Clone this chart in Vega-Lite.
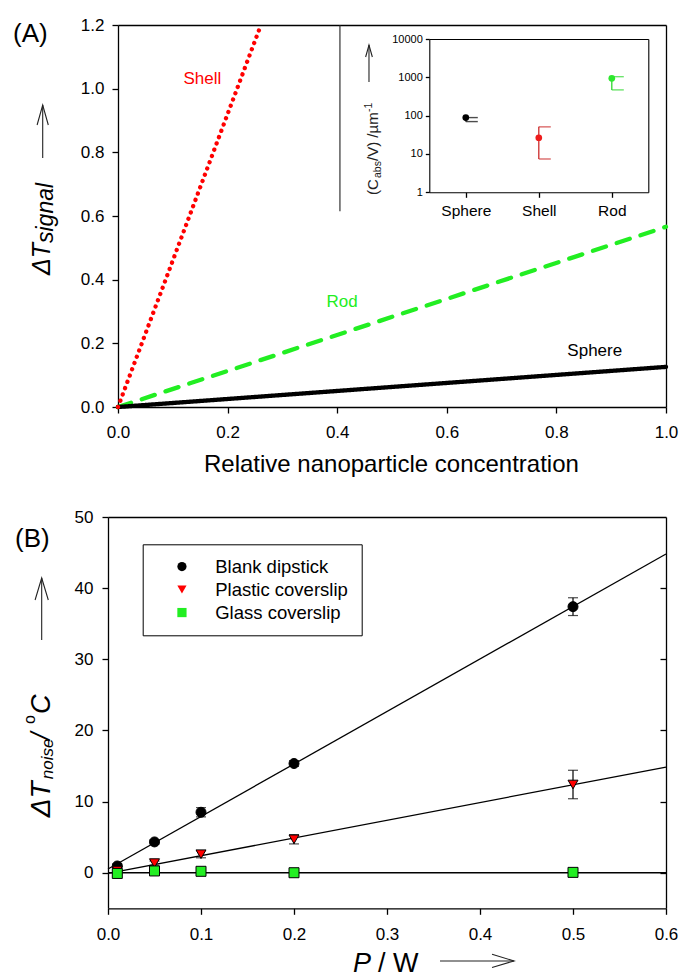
{
  "$schema": "https://vega.github.io/schema/vega-lite/v6.json",
  "width": 681,
  "height": 979,
  "padding": 0,
  "background": "#ffffff",
  "config": {
    "view": {"stroke": null},
    "axis": {"grid": false, "domainColor": "#000000", "domainWidth": 1.3, "tickColor": "#000000", "tickWidth": 1.3, "labelColor": "#000000", "labelFont": "Liberation Sans", "labelFontSize": 17, "labelFlush": false},
    "text": {"font": "Liberation Sans", "color": "#000000"}
  },
  "resolve": {"scale": {"x": "independent", "y": "independent", "color": "independent", "strokeDash": "independent", "fill": "independent", "shape": "independent"}},
  "layer": [
    {
      "resolve": {"axis": {"x": "independent", "y": "independent"}},
      "encoding": {
        "x": {"field": "x", "type": "quantitative", "scale": {"domain": [0, 1], "range": [118, 666], "nice": false, "zero": false}, "axis": null},
        "y": {"field": "y", "type": "quantitative", "scale": {"domain": [0, 1.2], "range": [407, 25], "nice": false, "zero": false}, "axis": null}
      },
      "layer": [
        {
          "data": {"values": [
            {"s": "Rod", "x": 0, "y": 0}, {"s": "Rod", "x": 1, "y": 0.566},
            {"s": "Sphere", "x": 0, "y": 0}, {"s": "Sphere", "x": 1, "y": 0.126},
            {"s": "Shell", "x": 0, "y": 0}, {"s": "Shell", "x": 0.2608, "y": 1.2}
          ]},
          "mark": {"type": "line", "strokeWidth": 4.3, "strokeCap": "round"},
          "encoding": {
            "x": {"field": "x", "type": "quantitative", "scale": {"domain": [0, 1], "range": [118, 666], "nice": false, "zero": false},
                  "axis": {"orient": "bottom", "offset": -572, "values": [0, 0.2, 0.4, 0.6, 0.8, 1], "format": ".1f", "tickSize": 6, "labelPadding": 11, "title": null}},
            "y": {"field": "y", "type": "quantitative", "scale": {"domain": [0, 1.2], "range": [407, 25], "nice": false, "zero": false},
                  "axis": {"orient": "left", "offset": -118, "values": [0, 0.2, 0.4, 0.6, 0.8, 1, 1.2], "format": ".1f", "tickSize": 6, "labelPadding": 8, "title": null}},
            "color": {"field": "s", "type": "nominal", "scale": {"domain": ["Shell", "Rod", "Sphere"], "range": ["#ff0000", "#22ee22", "#000000"]}, "legend": null},
            "strokeDash": {"field": "s", "type": "nominal", "scale": {"domain": ["Shell", "Rod", "Sphere"], "range": [[0.1, 6.6], [13.7, 11.3], [1, 0]]}, "legend": null}
          }
        },
        {
          "data": {"values": [
            {"s": "Shell", "x": 0.154, "y": 1.015},
            {"s": "Rod", "x": 0.409, "y": 0.314},
            {"s": "Sphere", "x": 0.87, "y": 0.16}
          ]},
          "mark": {"type": "text", "fontSize": 17, "align": "center", "baseline": "alphabetic"},
          "encoding": {
            "x": {"field": "x", "type": "quantitative", "scale": {"domain": [0, 1], "range": [118, 666], "nice": false, "zero": false},
                  "axis": {"orient": "top", "offset": -25, "ticks": false, "labels": false, "title": null}},
            "y": {"field": "y", "type": "quantitative", "scale": {"domain": [0, 1.2], "range": [407, 25], "nice": false, "zero": false},
                  "axis": {"orient": "right", "offset": -15, "ticks": false, "labels": false, "title": null}},
            "text": {"field": "s", "type": "nominal"},
            "color": {"field": "s", "type": "nominal", "scale": {"domain": ["Shell", "Rod", "Sphere"], "range": ["#ff0000", "#22ee22", "#000000"]}, "legend": null}
          }
        },
        {
          "data": {"values": [{"t": "Relative nanoparticle concentration", "x": 0.499, "y": -0.204}]},
          "mark": {"type": "text", "fontSize": 24, "align": "center", "baseline": "alphabetic"},
          "encoding": {"text": {"field": "t", "type": "nominal"}}
        },
        {
          "data": {"values": [{"t": "(A)", "x": -0.1916, "y": 1.1475}]},
          "mark": {"type": "text", "fontSize": 26, "align": "left", "baseline": "alphabetic"},
          "encoding": {"text": {"field": "t", "type": "nominal"}}
        },
        {
          "data": {"values": [{"t": "ΔT", "x": -0.1241, "y": 0.4147}]},
          "mark": {"type": "text", "fontSize": 25, "fontStyle": "italic", "angle": -90, "align": "left", "baseline": "alphabetic"},
          "encoding": {"text": {"field": "t", "type": "nominal"}}
        },
        {
          "data": {"values": [{"t": "signal", "x": -0.1186, "y": 0.5152}]},
          "mark": {"type": "text", "fontSize": 23, "fontStyle": "italic", "angle": -90, "align": "left", "baseline": "alphabetic"},
          "encoding": {"text": {"field": "t", "type": "nominal"}}
        },
        {
          "data": {"values": [{"t": "(C", "x": 0.4745, "y": 0.666}, {"t": "/V) /µm", "x": 0.4745, "y": 0.7728}]},
          "mark": {"type": "text", "fontSize": 15, "angle": -90, "align": "left", "baseline": "alphabetic", "color": "#222222"},
          "encoding": {"text": {"field": "t", "type": "nominal"}}
        },
        {
          "data": {"values": [{"t": "abs", "x": 0.4808, "y": 0.7194}, {"t": "-1", "x": 0.4635, "y": 0.9267}]},
          "mark": {"type": "text", "fontSize": 10.5, "angle": -90, "align": "left", "baseline": "alphabetic", "color": "#222222"},
          "encoding": {"text": {"field": "t", "type": "nominal"}}
        },
        {
          "data": {"values": [
            {"x": -0.1374, "y": 0.7822, "x2": -0.1374, "y2": 0.9487},
            {"x": 0.458, "y": 1.021, "x2": 0.458, "y2": 1.1372},
            {"x": 0.405, "y": 0.615, "x2": 0.405, "y2": 1.2}
          ]},
          "mark": {"type": "rule", "strokeWidth": 1.1, "color": "#222222"},
          "encoding": {"x2": {"field": "x2"}, "y2": {"field": "y2"}}
        },
        {
          "data": {"values": [{"x": -0.1374, "y": 0.9487}]},
          "mark": {"type": "point", "shape": "M -1 -0.28 L 0 0 L -1 0.28", "angle": -90, "size": 1600, "filled": false, "stroke": "#222222", "strokeWidth": 1.1, "opacity": 1}
        },
        {
          "data": {"values": [{"x": 0.458, "y": 1.1372}]},
          "mark": {"type": "point", "shape": "M -1 -0.28 L 0 0 L -1 0.28", "angle": -90, "size": 576, "filled": false, "stroke": "#222222", "strokeWidth": 1.1, "opacity": 1}
        }
      ]
    },
    {
      "resolve": {"axis": {"x": "independent", "y": "independent"}, "scale": {"color": "independent"}},
      "encoding": {
        "x": {"field": "c", "type": "nominal", "scale": {"type": "point", "domain": ["Sphere", "Shell", "Rod"], "range": [429.3, 648.3], "padding": 0.5}, "axis": null},
        "y": {"field": "v", "type": "quantitative", "scale": {"type": "log", "domain": [1, 10000], "range": [192.3, 39], "nice": false}, "axis": null}
      },
      "layer": [
        {
          "data": {"values": [
            {"c": "Sphere", "lo": 70, "hi": 89},
            {"c": "Shell", "lo": 7.4, "hi": 51},
            {"c": "Rod", "lo": 470, "hi": 1040}
          ]},
          "mark": {"type": "rule", "strokeWidth": 1.3},
          "encoding": {
            "x": {"field": "c", "type": "nominal", "scale": {"type": "point", "domain": ["Sphere", "Shell", "Rod"], "range": [429.3, 648.3], "padding": 0.5},
                  "axis": {"orient": "top", "offset": -39, "ticks": false, "labels": false, "title": null, "domainWidth": 1.1}},
            "y": {"field": "lo", "type": "quantitative", "scale": {"type": "log", "domain": [1, 10000], "range": [192.3, 39], "nice": false},
                  "axis": {"orient": "right", "offset": -32.7, "ticks": false, "labels": false, "title": null, "domainWidth": 1.1}},
            "y2": {"field": "hi"},
            "color": {"field": "c", "type": "nominal", "scale": {"domain": ["Sphere", "Shell", "Rod"], "range": ["#000000", "#cc2b2b", "#2ed82e"]}, "legend": null}
          }
        },
        {
          "data": {"values": [
            {"c": "Sphere", "lo": 70, "hi": 89},
            {"c": "Shell", "lo": 7.4, "hi": 51},
            {"c": "Rod", "lo": 470, "hi": 1040}
          ]},
          "mark": {"type": "tick", "orient": "horizontal", "xOffset": 6, "size": 12, "thickness": 1.4},
          "encoding": {
            "y": {"field": "lo", "type": "quantitative", "scale": {"type": "log", "domain": [1, 10000], "range": [192.3, 39], "nice": false}, "axis": null},
            "color": {"field": "c", "type": "nominal", "scale": {"domain": ["Sphere", "Shell", "Rod"], "range": ["#000000", "#cc2b2b", "#2ed82e"]}, "legend": null}
          }
        },
        {
          "data": {"values": [
            {"c": "Sphere", "lo": 70, "hi": 89},
            {"c": "Shell", "lo": 7.4, "hi": 51},
            {"c": "Rod", "lo": 470, "hi": 1040}
          ]},
          "mark": {"type": "tick", "orient": "horizontal", "xOffset": 6, "size": 12, "thickness": 1.4},
          "encoding": {
            "y": {"field": "hi", "type": "quantitative", "scale": {"type": "log", "domain": [1, 10000], "range": [192.3, 39], "nice": false}, "axis": null},
            "color": {"field": "c", "type": "nominal", "scale": {"domain": ["Sphere", "Shell", "Rod"], "range": ["#000000", "#cc2b2b", "#2ed82e"]}, "legend": null}
          }
        },
        {
          "data": {"values": [
            {"c": "Sphere", "v": 89},
            {"c": "Shell", "v": 26.5},
            {"c": "Rod", "v": 940}
          ]},
          "mark": {"type": "circle", "size": 45, "opacity": 1},
          "encoding": {
            "x": {"field": "c", "type": "nominal", "scale": {"type": "point", "domain": ["Sphere", "Shell", "Rod"], "range": [429.3, 648.3], "padding": 0.5},
                  "axis": {"orient": "bottom", "offset": -786.7, "tickSize": 5, "labelPadding": 6, "labelFontSize": 15.5, "labelAngle": 0, "title": null, "domainWidth": 1.1}},
            "y": {"field": "v", "type": "quantitative", "scale": {"type": "log", "domain": [1, 10000], "range": [192.3, 39], "nice": false},
                  "axis": {"orient": "left", "offset": -429.3, "values": [1, 10, 100, 1000, 10000], "format": "d", "tickSize": 4, "labelPadding": 3, "labelFontSize": 11, "title": null, "domainWidth": 1.1}},
            "color": {"field": "c", "type": "nominal", "scale": {"domain": ["Sphere", "Shell", "Rod"], "range": ["#000000", "#ee1c1c", "#2ee82e"]}, "legend": null}
          }
        }
      ]
    },
    {
      "resolve": {"axis": {"x": "independent", "y": "independent"}},
      "encoding": {
        "x": {"field": "P", "type": "quantitative", "scale": {"domain": [0, 0.6], "range": [108, 666], "nice": false, "zero": false}, "axis": null},
        "y": {"field": "T", "type": "quantitative", "scale": {"domain": [-5, 50], "range": [908.3, 517], "nice": false, "zero": false}, "axis": null}
      },
      "layer": [
        {
          "data": {"values": [
            {"s": "Blank dipstick", "P": 0, "T": 0.52}, {"s": "Blank dipstick", "P": 0.6, "T": 44.8},
            {"s": "Plastic coverslip", "P": 0, "T": -0.1}, {"s": "Plastic coverslip", "P": 0.6, "T": 14.85},
            {"s": "Glass coverslip", "P": 0, "T": 0}, {"s": "Glass coverslip", "P": 0.6, "T": 0}
          ]},
          "mark": {"type": "line", "strokeWidth": 1.3, "color": "#000000"},
          "encoding": {
            "x": {"field": "P", "type": "quantitative", "scale": {"domain": [0, 0.6], "range": [108, 666], "nice": false, "zero": false},
                  "axis": {"orient": "bottom", "offset": -70.7, "values": [0, 0.1, 0.2, 0.3, 0.4, 0.5, 0.6], "format": ".1f", "tickSize": 6, "labelPadding": 12, "title": null}},
            "y": {"field": "T", "type": "quantitative", "scale": {"domain": [-5, 50], "range": [908.3, 517], "nice": false, "zero": false},
                  "axis": {"orient": "left", "offset": -108, "values": [0, 10, 20, 30, 40, 50], "format": "d", "tickSize": 6, "labelPadding": 9, "title": null}},
            "detail": {"field": "s", "type": "nominal"}
          }
        },
        {
          "data": {"values": [
            {"s": "Blank dipstick", "P": 0.01, "T": 0.95, "lo": 0.65, "hi": 1.25},
            {"s": "Blank dipstick", "P": 0.05, "T": 4.33, "lo": 4.03, "hi": 4.63},
            {"s": "Blank dipstick", "P": 0.1, "T": 8.5, "lo": 7.85, "hi": 9.15},
            {"s": "Blank dipstick", "P": 0.2, "T": 15.35, "lo": 14.95, "hi": 15.75},
            {"s": "Blank dipstick", "P": 0.5, "T": 37.4, "lo": 36.15, "hi": 38.65},
            {"s": "Plastic coverslip", "P": 0.01, "T": 0.3, "lo": 0.1, "hi": 0.5},
            {"s": "Plastic coverslip", "P": 0.05, "T": 1.35, "lo": 1.05, "hi": 1.65},
            {"s": "Plastic coverslip", "P": 0.1, "T": 2.6, "lo": 2.1, "hi": 3.1},
            {"s": "Plastic coverslip", "P": 0.2, "T": 4.7, "lo": 4.05, "hi": 5.35},
            {"s": "Plastic coverslip", "P": 0.5, "T": 12.4, "lo": 10.4, "hi": 14.4}
          ]},
          "mark": {"type": "rule", "strokeWidth": 1.2, "color": "#000000"},
          "encoding": {
            "x": {"field": "P", "type": "quantitative", "scale": {"domain": [0, 0.6], "range": [108, 666], "nice": false, "zero": false},
                  "axis": {"orient": "top", "offset": -517, "ticks": false, "labels": false, "title": null}},
            "y": {"field": "lo", "type": "quantitative", "scale": {"domain": [-5, 50], "range": [908.3, 517], "nice": false, "zero": false},
                  "axis": {"orient": "right", "offset": -15, "values": [0, 10, 20, 30, 40], "tickSize": -6, "labels": false, "title": null}},
            "y2": {"field": "hi"}
          }
        },
        {
          "data": {"values": [
            {"P": 0.01, "lo": 0.65, "hi": 1.25}, {"P": 0.05, "lo": 4.03, "hi": 4.63}, {"P": 0.1, "lo": 7.85, "hi": 9.15},
            {"P": 0.2, "lo": 14.95, "hi": 15.75}, {"P": 0.5, "lo": 36.15, "hi": 38.65},
            {"P": 0.01, "lo": 0.1, "hi": 0.5}, {"P": 0.05, "lo": 1.05, "hi": 1.65}, {"P": 0.1, "lo": 2.1, "hi": 3.1},
            {"P": 0.2, "lo": 4.05, "hi": 5.35}, {"P": 0.5, "lo": 10.4, "hi": 14.4}
          ]},
          "mark": {"type": "tick", "orient": "horizontal", "size": 10, "thickness": 1.2, "color": "#000000"},
          "encoding": {"y": {"field": "lo", "type": "quantitative", "scale": {"domain": [-5, 50], "range": [908.3, 517], "nice": false, "zero": false}, "axis": null}}
        },
        {
          "data": {"values": [
            {"P": 0.01, "lo": 0.65, "hi": 1.25}, {"P": 0.05, "lo": 4.03, "hi": 4.63}, {"P": 0.1, "lo": 7.85, "hi": 9.15},
            {"P": 0.2, "lo": 14.95, "hi": 15.75}, {"P": 0.5, "lo": 36.15, "hi": 38.65},
            {"P": 0.01, "lo": 0.1, "hi": 0.5}, {"P": 0.05, "lo": 1.05, "hi": 1.65}, {"P": 0.1, "lo": 2.1, "hi": 3.1},
            {"P": 0.2, "lo": 4.05, "hi": 5.35}, {"P": 0.5, "lo": 10.4, "hi": 14.4}
          ]},
          "mark": {"type": "tick", "orient": "horizontal", "size": 10, "thickness": 1.2, "color": "#000000"},
          "encoding": {"y": {"field": "hi", "type": "quantitative", "scale": {"domain": [-5, 50], "range": [908.3, 517], "nice": false, "zero": false}, "axis": null}}
        },
        {
          "data": {"values": [
            {"s": "Blank dipstick", "P": 0.01, "T": 0.95},
            {"s": "Blank dipstick", "P": 0.05, "T": 4.33},
            {"s": "Blank dipstick", "P": 0.1, "T": 8.5},
            {"s": "Blank dipstick", "P": 0.2, "T": 15.35},
            {"s": "Blank dipstick", "P": 0.5, "T": 37.4},
            {"s": "Plastic coverslip", "P": 0.01, "T": 0.3},
            {"s": "Plastic coverslip", "P": 0.05, "T": 1.35},
            {"s": "Plastic coverslip", "P": 0.1, "T": 2.6},
            {"s": "Plastic coverslip", "P": 0.2, "T": 4.7},
            {"s": "Plastic coverslip", "P": 0.5, "T": 12.4},
            {"s": "Glass coverslip", "P": 0.01, "T": -0.1},
            {"s": "Glass coverslip", "P": 0.05, "T": 0.25},
            {"s": "Glass coverslip", "P": 0.1, "T": 0.2},
            {"s": "Glass coverslip", "P": 0.2, "T": 0},
            {"s": "Glass coverslip", "P": 0.5, "T": 0.05}
          ]},
          "mark": {"type": "point", "filled": true, "stroke": "#000000", "strokeWidth": 1, "size": 100, "opacity": 1},
          "encoding": {
            "fill": {"field": "s", "type": "nominal", "scale": {"domain": ["Blank dipstick", "Plastic coverslip", "Glass coverslip"], "range": ["#000000", "#ff0000", "#22ee22"]},
                     "legend": {"orient": "none", "legendX": 142.7, "legendY": 544.3, "title": null, "padding": 13, "strokeColor": "#000000", "fillColor": "#ffffff", "labelFont": "Liberation Sans", "labelFontSize": 18.5, "labelColor": "#000000", "symbolSize": 85, "symbolStrokeColor": "#000000", "symbolStrokeWidth": 1, "symbolOffset": 17, "labelOffset": 24, "rowPadding": 4, "labelExpr": "datum.label + '\u00a0\u00a0'"}},
            "shape": {"field": "s", "type": "nominal", "scale": {"domain": ["Blank dipstick", "Plastic coverslip", "Glass coverslip"], "range": ["circle", "triangle-down", "square"]},
                     "legend": {"orient": "none", "legendX": 142.7, "legendY": 544.3, "title": null, "padding": 13, "strokeColor": "#000000", "fillColor": "#ffffff", "labelFont": "Liberation Sans", "labelFontSize": 18.5, "labelColor": "#000000", "symbolSize": 85, "symbolStrokeColor": "#000000", "symbolStrokeWidth": 1, "symbolOffset": 17, "labelOffset": 24, "rowPadding": 4, "labelExpr": "datum.label + '\u00a0\u00a0'"}}
          }
        },
        {
          "data": {"values": [{"t": "(B)", "P": -0.1, "T": 45.83}]},
          "mark": {"type": "text", "fontSize": 26, "align": "left", "baseline": "alphabetic"},
          "encoding": {"text": {"field": "t", "type": "nominal"}}
        },
        {
          "data": {"values": [{"t": "ΔT", "P": -0.0624, "T": 7.81}]},
          "mark": {"type": "text", "fontSize": 28, "fontStyle": "italic", "angle": -90, "align": "left", "baseline": "alphabetic"},
          "encoding": {"text": {"field": "t", "type": "nominal"}}
        },
        {
          "data": {"values": [{"t": "noise", "P": -0.0591, "T": 13.15}]},
          "mark": {"type": "text", "fontSize": 17, "fontStyle": "italic", "angle": -90, "align": "left", "baseline": "alphabetic"},
          "encoding": {"text": {"field": "t", "type": "nominal"}}
        },
        {
          "data": {"values": [{"t": "/", "P": -0.0624, "T": 18.64}, {"t": "C", "P": -0.0624, "T": 22.3}]},
          "mark": {"type": "text", "fontSize": 27, "fontStyle": "italic", "angle": -90, "align": "left", "baseline": "alphabetic"},
          "encoding": {"text": {"field": "t", "type": "nominal"}}
        },
        {
          "data": {"values": [{"t": "o", "P": -0.0785, "T": 20.89}]},
          "mark": {"type": "text", "fontSize": 16, "angle": -90, "align": "left", "baseline": "alphabetic"},
          "encoding": {"text": {"field": "t", "type": "nominal"}}
        },
        {
          "data": {"values": [{"t": "P", "P": 0.2634, "T": -13.9}]},
          "mark": {"type": "text", "fontSize": 27, "fontStyle": "italic", "align": "left", "baseline": "alphabetic"},
          "encoding": {"text": {"field": "t", "type": "nominal"}}
        },
        {
          "data": {"values": [{"t": "/ W", "P": 0.2903, "T": -13.9}]},
          "mark": {"type": "text", "fontSize": 27, "align": "left", "baseline": "alphabetic"},
          "encoding": {"text": {"field": "t", "type": "nominal"}}
        },
        {
          "data": {"values": [
            {"P": -0.0713, "T": 32.7, "P2": -0.0713, "T2": 41.43},
            {"P": 0.357, "T": -12.4, "P2": 0.4366, "T2": -12.4}
          ]},
          "mark": {"type": "rule", "strokeWidth": 1.1, "color": "#222222"},
          "encoding": {"x2": {"field": "P2"}, "y2": {"field": "T2"}}
        },
        {
          "data": {"values": [{"P": -0.0713, "T": 41.43}]},
          "mark": {"type": "point", "shape": "M -1 -0.3 L 0 0 L -1 0.3", "angle": -90, "size": 1936, "filled": false, "stroke": "#222222", "strokeWidth": 1.1, "opacity": 1}
        },
        {
          "data": {"values": [{"P": 0.4366, "T": -12.4}]},
          "mark": {"type": "point", "shape": "M -1 -0.3 L 0 0 L -1 0.3", "angle": 0, "size": 1936, "filled": false, "stroke": "#222222", "strokeWidth": 1.1, "opacity": 1}
        }
      ]
    }
  ]
}
